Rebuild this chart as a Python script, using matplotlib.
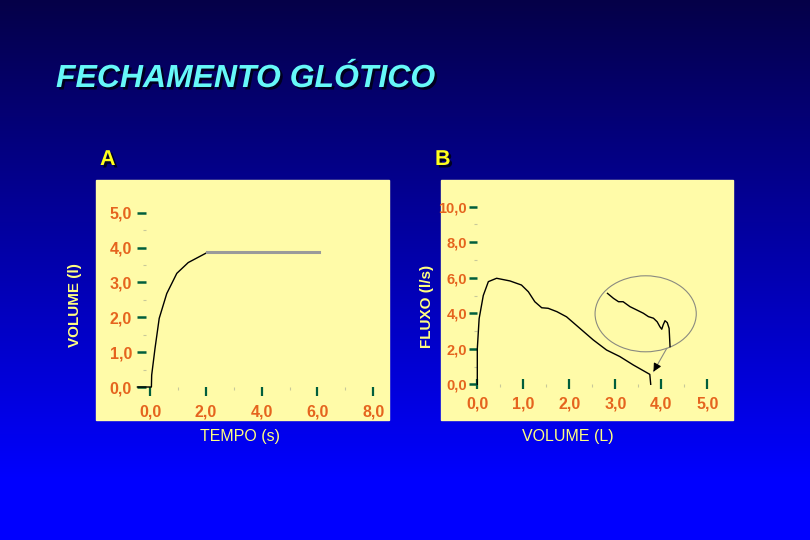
import numpy as np
import matplotlib
matplotlib.use("Agg")
import matplotlib.pyplot as plt
import matplotlib.patheffects as pe
from matplotlib.patches import Rectangle, Ellipse

# --- dados ---
tempo_subida = [-0.45, 0.05, 0.06, 0.18, 0.33, 0.6, 0.96, 1.37, 2.03]
volume_subida = [0.0, 0.0, 0.34, 1.11, 1.97, 2.68, 3.26, 3.57, 3.85]
tempo_plato = [2.03, 6.07]
volume_plato = [3.87, 3.87]

vol_curva = [0.0, 0.0, 0.04, 0.13, 0.24, 0.42, 0.71, 0.96, 1.11, 1.25, 1.4, 1.54,
             1.73, 1.94, 2.23, 2.52, 2.81, 3.1, 3.39, 3.75, 3.77]
fluxo_curva = [0.0, 2.0, 3.7, 5.0, 5.78, 5.97, 5.82, 5.59, 5.21, 4.65, 4.31, 4.28,
               4.09, 3.8, 3.15, 2.5, 1.93, 1.56, 1.09, 0.56, 0.0]

vol_detalhe = [2.83, 2.96, 3.07, 3.17, 3.32, 3.47, 3.61, 3.72, 3.83, 3.91, 3.97,
               4.01, 4.04, 4.08, 4.13, 4.17, 4.19]
fluxo_detalhe = [5.12, 4.84, 4.65, 4.65, 4.37, 4.18, 4.0, 3.81, 3.72, 3.52, 3.24,
                 3.1, 3.34, 3.58, 3.47, 3.15, 2.12]

elipse_centro = (3.66, 3.97)
elipse_tam = (2.2, 4.28)
seta_de = (4.12, 2.03)
seta_para = (3.83, 0.71)

ticks_a_x = [0, 2, 4, 6, 8]
ticks_a_y = [0, 1, 2, 3, 4, 5]
ticks_b_x = [0, 1, 2, 3, 4, 5]
ticks_b_y = [0, 2, 4, 6, 8, 10]

W, H = 810, 540
LARANJA = "#E5641E"
VERDE = "#005E3C"
CREME = "#FFFBA8"
AMARELO_CLARO = "#FFFF80"


def fx(px):
    return px / W


def fy(py):
    return 1 - py / H


def rotulo(v):
    return f"{v:.1f}".replace(".", ",")


def estilo_eixos(ax, xt, yt, xmin, ymin, yoff, ylen, ypad, xdir, xlen, xpad, ysize=11.5):
    for s in ax.spines.values():
        s.set_visible(False)
    ax.spines["left"].set_position(("outward", yoff))
    ax.set_facecolor("none")
    ax.set_xticks(xt)
    ax.set_xticklabels([rotulo(v) for v in xt])
    ax.set_yticks(yt)
    ax.set_yticklabels([rotulo(v) for v in yt])
    ax.set_xticks(xmin, minor=True)
    ax.set_yticks(ymin, minor=True)
    ax.tick_params(axis="y", which="major", direction="out", length=ylen, width=1.8,
                   color=VERDE, pad=ypad, labelcolor=LARANJA, labelsize=ysize)
    ax.tick_params(axis="x", which="major", direction=xdir, length=xlen, width=1.6,
                   color=VERDE, pad=xpad, labelcolor=LARANJA, labelsize=11.5)
    ax.tick_params(which="minor", direction="out", length=2, width=0.8, color="#C8C89A")
    for lab in ax.get_xticklabels() + ax.get_yticklabels():
        lab.set_fontweight("bold")


plt.rcParams["font.family"] = ["Liberation Sans", "DejaVu Sans"]
fig = plt.figure(figsize=(8.1, 5.4), dpi=100)

# fundo em degrade azul
bg = fig.add_axes([0, 0, 1, 1], zorder=-10)
rows = np.linspace(0, 1, 540)
azul = np.clip(0x48 / 255 + (1 - 0x48 / 255) * rows * 540 / 480, 0, 1)
grad = np.zeros((540, 2, 3))
grad[:, :, 0] = 0.02 * (1 - rows[:, None])
grad[:, :, 2] = azul[:, None]
bg.imshow(grad, aspect="auto", extent=[0, 1, 0, 1], origin="upper")
bg.axis("off")

# paineis creme
fig.patches.append(Rectangle((fx(96), fy(420)), fx(389 - 96), (420 - 180) / H,
                             transform=fig.transFigure, color=CREME, zorder=-5))
fig.patches.append(Rectangle((fx(441), fy(420)), fx(733 - 441), (420 - 180) / H,
                             transform=fig.transFigure, color=CREME, zorder=-5))

sombra = [pe.withSimplePatchShadow(offset=(1.8, -1.8), shadow_rgbFace="#000018", alpha=0.9)]
fig.text(fx(56), fy(87), "FECHAMENTO GLÓTICO", fontsize=23, fontweight="bold",
         fontstyle="italic", color="#66F8F8", va="baseline", ha="left", path_effects=sombra)
fig.text(fx(100), fy(165), "A", fontsize=15.5, fontweight="bold", color="#FFFF1A",
         va="baseline", ha="left", path_effects=sombra)
fig.text(fx(435), fy(165), "B", fontsize=15.5, fontweight="bold", color="#FFFF1A",
         va="baseline", ha="left", path_effects=sombra)

# painel A
axA = fig.add_axes([fx(150), fy(387), fx(373.3 - 150), (387 - 212.7) / H])
axA.plot(tempo_subida, volume_subida, color="black", lw=1.0, clip_on=False)
axA.plot(tempo_plato, volume_plato, color="#9A9A9A", lw=2.2, clip_on=False)
axA.set_xlim(0, 8)
axA.set_ylim(0, 5)
estilo_eixos(axA, ticks_a_x, ticks_a_y, [1, 3, 5, 7], [0.5, 1.5, 2.5, 3.5, 4.5],
             yoff=3, ylen=6.5, ypad=3.5, xdir="out", xlen=6.5, xpad=6)
fig.text(fx(75), fy(305), "VOLUME (l)", rotation=90, fontsize=11, fontweight="bold",
         color=AMARELO_CLARO, ha="center", va="center")
fig.text(fx(240), fy(437), "TEMPO (s)", fontsize=11.5, color=AMARELO_CLARO,
         ha="center", va="center")

# painel B
axB = fig.add_axes([fx(477.3), fy(384.3), fx(707.3 - 477.3), (384.3 - 206.7) / H])
axB.plot(vol_curva, fluxo_curva, color="black", lw=1.0, clip_on=False)
axB.plot(vol_detalhe, fluxo_detalhe, color="black", lw=1.0)
axB.add_patch(Ellipse(elipse_centro, elipse_tam[0], elipse_tam[1], fill=False,
                      edgecolor="#8A8A80", lw=0.8))
axB.annotate("", xy=seta_para, xytext=seta_de,
             arrowprops=dict(arrowstyle="-", color="#8A8A80", lw=0.8, shrinkA=0, shrinkB=0))
axB.annotate("", xy=seta_para,
             xytext=(seta_para[0] + 0.06, seta_para[1] + 0.28),
             arrowprops=dict(arrowstyle="-|>", color="black", lw=0.8, mutation_scale=12,
                             shrinkA=0, shrinkB=0))
axB.set_xlim(0, 5)
axB.set_ylim(0, 10)
estilo_eixos(axB, ticks_b_x, ticks_b_y, [0.5, 1.5, 2.5, 3.5, 4.5], [1, 3, 5, 7, 9],
             yoff=0, ylen=5.8, ypad=1.5, xdir="inout", xlen=6.5, xpad=5.5, ysize=10.5)
fig.text(fx(426.5), fy(306), "FLUXO (l/s)", rotation=90, fontsize=11, fontweight="bold",
         color=AMARELO_CLARO, ha="center", va="center")
fig.text(fx(568), fy(437), "VOLUME (L)", fontsize=11.5, color=AMARELO_CLARO,
         ha="center", va="center")

fig.savefig("out.png", dpi=100)
